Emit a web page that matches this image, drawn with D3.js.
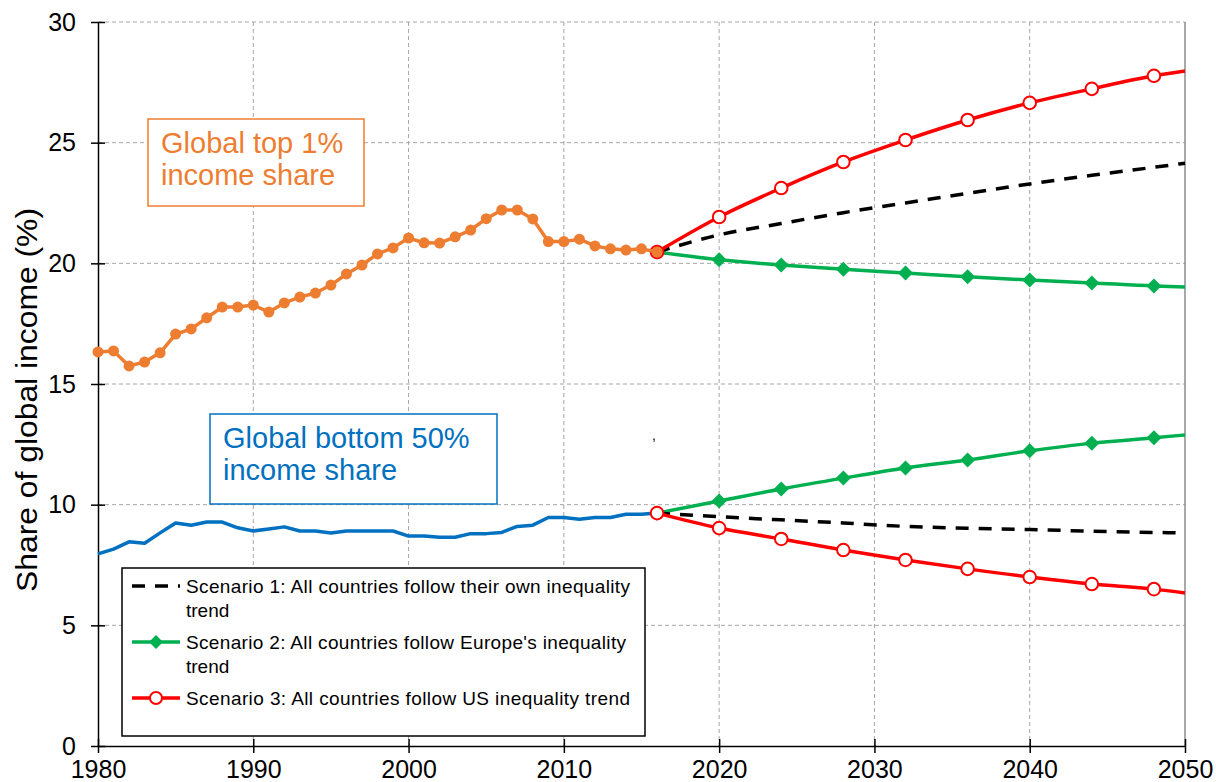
<meta charset="utf-8">
<html>
<head>
<style>
  body { margin: 0; background: #fff; }
  svg text { font-family: "Liberation Sans", Arial, sans-serif; }
</style>
</head>
<body>
<div id="chart"></div>
<script src="https://d3js.org/d3.v7.min.js"></script>
<script>
// historical series, 1980-2016
var histYears = d3.range(1980, 2017);
var top1 = [16.33, 16.37, 15.75, 15.91, 16.29, 17.07, 17.28, 17.74, 18.19, 18.19,
            18.27, 17.98, 18.36, 18.6, 18.77, 19.1, 19.56, 19.93, 20.39, 20.64,
            21.05, 20.85, 20.84, 21.1, 21.38, 21.85, 22.21, 22.21, 21.84, 20.9,
            20.9, 21.0, 20.72, 20.6, 20.55, 20.6, 20.47];
var bottom50 = [7.96, 8.16, 8.46, 8.4, 8.83, 9.24, 9.15, 9.28, 9.28, 9.04,
                8.91, 8.99, 9.08, 8.91, 8.91, 8.83, 8.91, 8.91, 8.91, 8.91,
                8.7, 8.7, 8.65, 8.65, 8.8, 8.8, 8.85, 9.1, 9.15, 9.47,
                9.47, 9.4, 9.47, 9.47, 9.6, 9.6, 9.65];

// projections
var projYears = [2016, 2020, 2024, 2028, 2032, 2036, 2040, 2044, 2048, 2050];
var s1Top = [20.47, 21.18, 21.65, 22.1, 22.5, 22.9, 23.29, 23.65, 23.98, 24.15];
var s2Top = [20.47, 20.15, 19.93, 19.75, 19.6, 19.44, 19.31, 19.19, 19.06, 19.02];
var s3Top = [20.47, 21.92, 23.12, 24.2, 25.11, 25.94, 26.65, 27.23, 27.77, 27.97];
var s1Bot = [9.65, 9.5, 9.37, 9.24, 9.1, 9.02, 8.97, 8.9, 8.85, 8.83];
var s2Bot = [9.65, 10.15, 10.65, 11.1, 11.52, 11.85, 12.23, 12.55, 12.77, 12.89];
var s3Bot = [9.65, 9.03, 8.58, 8.12, 7.71, 7.34, 7.0, 6.71, 6.5, 6.34];

var xTicks = [1980, 1990, 2000, 2010, 2020, 2030, 2040, 2050];
var yTicks = [0, 5, 10, 15, 20, 25, 30];

var legendLabels = [
  ["Scenario 1: All countries follow their own inequality", "trend"],
  ["Scenario 2: All countries follow Europe's inequality", "trend"],
  ["Scenario 3: All countries follow US inequality trend"]
];

var margin = {top: 22, right: 31, bottom: 36, left: 98},
    width = 1216 - margin.left - margin.right,
    height = 782 - margin.top - margin.bottom;

var svg = d3.select("#chart")
  .append("svg")
    .attr("width", 1216)
    .attr("height", 782)
  .append("g")
    .attr("transform", "translate(" + margin.left + "," + margin.top + ")");

var x = d3.scaleLinear().domain([1980, 2050]).range([0, width]);
var y = d3.scaleLinear().domain([0, 30]).range([height, 0]);

// grid
svg.append("g").selectAll("line")
  .data(yTicks.slice(1))
  .enter().append("line")
    .attr("x1", 0).attr("x2", width)
    .attr("y1", function(d) { return y(d); })
    .attr("y2", function(d) { return y(d); })
    .attr("stroke", "#a6a6a6").attr("stroke-dasharray", "4,3");
svg.append("g").selectAll("line")
  .data(xTicks.slice(1, -1))
  .enter().append("line")
    .attr("y1", 0).attr("y2", height)
    .attr("x1", function(d) { return x(d); })
    .attr("x2", function(d) { return x(d); })
    .attr("stroke", "#a6a6a6").attr("stroke-dasharray", "4,3");
// right border
svg.append("line")
  .attr("x1", width).attr("x2", width).attr("y1", 0).attr("y2", height)
  .attr("stroke", "#8c8c8c").attr("stroke-width", 1.5);

// axes
var yAxis = svg.append("g")
  .call(d3.axisLeft(y).tickValues(yTicks).tickSize(7).tickSizeOuter(0).tickPadding(15));
yAxis.selectAll(".tick line").attr("x1", 7);
var xAxis = svg.append("g")
  .attr("transform", "translate(0," + height + ")")
  .call(d3.axisBottom(x).tickValues(xTicks).tickFormat(d3.format("d")).tickSize(7).tickSizeOuter(0).tickPadding(7));
xAxis.selectAll(".tick line").attr("y1", -7);
svg.selectAll(".domain, .tick line").attr("stroke", "#000").attr("stroke-width", 1.5);
svg.selectAll(".tick text")
  .attr("font-size", 25).attr("fill", "#000")
  .attr("font-family", "Liberation Sans, Arial, sans-serif");

// y title
svg.append("text")
  .attr("transform", "translate(" + (37 - margin.left) + "," + (400 - margin.top) + ") rotate(-90)")
  .attr("text-anchor", "middle")
  .attr("font-size", 29)
  .attr("textLength", 384)
  .attr("lengthAdjust", "spacingAndGlyphs")
  .text("Share of global income (%)");

var histLine = d3.line()
  .x(function(d, i) { return x(histYears[i]); })
  .y(function(d) { return y(d); });
var projLine = d3.line()
  .curve(d3.curveMonotoneX)
  .x(function(d, i) { return x(projYears[i]); })
  .y(function(d) { return y(d); });

// bottom 50% history
svg.append("path").datum(bottom50)
  .attr("d", histLine)
  .attr("fill", "none").attr("stroke", "#0070c0").attr("stroke-width", 3.5)
  .attr("stroke-linejoin", "round");

function diamond(g, data) {
  g.selectAll(null)
    .data(data.slice(0, -1))
    .enter().append("path")
      .attr("d", "M0,-7.5L7.5,0L0,7.5L-7.5,0Z")
      .attr("transform", function(d, i) { return "translate(" + x(projYears[i]) + "," + y(d) + ")"; })
      .attr("fill", "#00b050");
}
function openCircle(g, data) {
  g.selectAll(null)
    .data(data.slice(0, -1))
    .enter().append("circle")
      .attr("cx", function(d, i) { return x(projYears[i]); })
      .attr("cy", function(d) { return y(d); })
      .attr("r", 6.3)
      .attr("fill", "#fff").attr("stroke", "#ff0000").attr("stroke-width", 2);
}

[[s2Bot, s1Bot, s3Bot], [s2Top, s1Top, s3Top]].forEach(function(set) {
  var g = svg.append("g");
  g.append("path").datum(set[0]).attr("d", projLine)
    .attr("fill", "none").attr("stroke", "#00b050").attr("stroke-width", 3.5);
  diamond(g, set[0]);
  g.append("path").datum(set[1]).attr("d", projLine)
    .attr("fill", "none").attr("stroke", "#000").attr("stroke-width", 3.5)
    .attr("stroke-dasharray", "13,10");
  g.append("path").datum(set[2]).attr("d", projLine)
    .attr("fill", "none").attr("stroke", "#ff0000").attr("stroke-width", 3.5);
  openCircle(g, set[2]);
});

// top 1% history
svg.append("path").datum(top1)
  .attr("d", histLine)
  .attr("fill", "none").attr("stroke", "#ed7d31").attr("stroke-width", 3.5)
  .attr("stroke-linejoin", "round");
svg.append("g").selectAll("circle")
  .data(top1)
  .enter().append("circle")
    .attr("cx", function(d, i) { return x(histYears[i]); })
    .attr("cy", function(d) { return y(d); })
    .attr("r", 5.5)
    .attr("fill", "#ed7d31");

// annotation boxes
function note(bx, by, bw, bh, color, lines, tx, ty) {
  svg.append("rect")
    .attr("x", bx - margin.left).attr("y", by - margin.top)
    .attr("width", bw).attr("height", bh)
    .attr("fill", "#fff").attr("stroke", color).attr("stroke-width", 1.5);
  lines.forEach(function(t, i) {
    svg.append("text")
      .attr("x", tx - margin.left).attr("y", ty - margin.top + i * 32)
      .attr("font-size", 29).attr("fill", color)
      .text(t);
  });
}
note(148, 119, 216, 87, "#ed7d31", ["Global top 1%", "income share"], 161, 153);
note(210, 414, 287, 90, "#0070c0", ["Global bottom 50%", "income share"], 223, 448);

// stray mark
svg.append("text")
  .attr("x", 652 - margin.left).attr("y", 440 - margin.top)
  .attr("font-size", 14).attr("fill", "#000").text(",");

// legend
var lg = svg.append("g").attr("transform", "translate(" + (122 - margin.left) + "," + (568 - margin.top) + ")");
lg.append("rect").attr("width", 523).attr("height", 168)
  .attr("fill", "#fff").attr("stroke", "#000").attr("stroke-width", 1.5);
var rowY = [18, 74, 130];
var lens = [444, 440, 444];
legendLabels.forEach(function(lines, i) {
  lines.forEach(function(t, j) {
    var tt = lg.append("text")
      .attr("x", 64).attr("y", rowY[i] + 7 + j * 24)
      .attr("font-size", 19).attr("fill", "#000")
      .text(t);
    if (j === 0) tt.attr("textLength", lens[i]);
  });
});
lg.append("line").attr("x1", 10).attr("x2", 58).attr("y1", rowY[0]).attr("y2", rowY[0])
  .attr("stroke", "#000").attr("stroke-width", 3.5).attr("stroke-dasharray", "13,10");
lg.append("line").attr("x1", 10).attr("x2", 58).attr("y1", rowY[1]).attr("y2", rowY[1])
  .attr("stroke", "#00b050").attr("stroke-width", 3.5);
lg.append("path").attr("d", "M0,-7L7,0L0,7L-7,0Z")
  .attr("transform", "translate(34," + rowY[1] + ")").attr("fill", "#00b050");
lg.append("line").attr("x1", 10).attr("x2", 58).attr("y1", rowY[2]).attr("y2", rowY[2])
  .attr("stroke", "#ff0000").attr("stroke-width", 3.5);
lg.append("circle").attr("cx", 34).attr("cy", rowY[2]).attr("r", 6)
  .attr("fill", "#fff").attr("stroke", "#ff0000").attr("stroke-width", 2);
</script>
</body>
</html>
